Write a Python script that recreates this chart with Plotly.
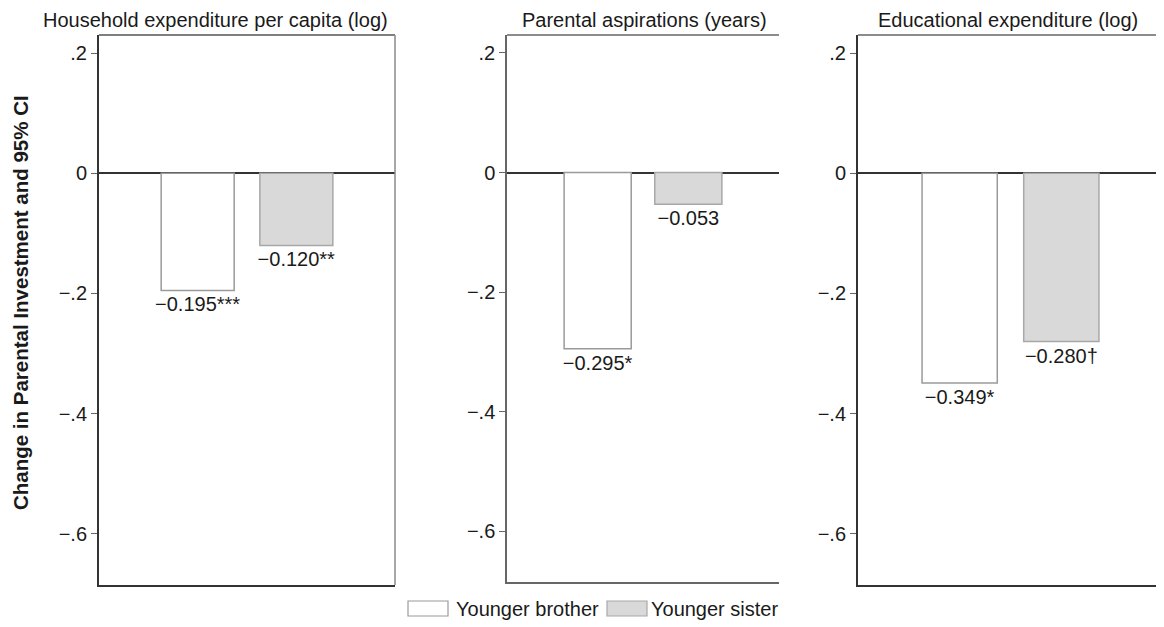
import plotly.graph_objects as go

# ---- data ----
panel_titles = ["Household expenditure per capita (log)",
                "Parental aspirations (years)",
                "Educational expenditure (log)"]
series_names = ["Younger brother", "Younger sister"]
brother_vals = [-0.195, -0.295, -0.349]
sister_vals = [-0.120, -0.053, -0.280]
brother_sig = ["***", "*", "*"]
sister_sig = ["**", "", "\u2020"]
tick_vals = [0.2, 0.0, -0.2, -0.4, -0.6]
tick_text = [".2", "0", "\u2212.2", "\u2212.4", "\u2212.6"]
y_title = "Change in Parental Investment and 95% CI"

# page has an 8px body margin: figure drawn at (8, 8)
OFF = 8
W, H = 1164 - OFF, 627 - OFF
FONT = "Liberation Sans, Arial, Helvetica, sans-serif"
TXT = "#1a1a1a"
FS = 20

def px(x):
    return (x - OFF) / W

def py(y):
    return 1 - (y - OFF) / H

def lab(v, s):
    return "\u2212" + f"{abs(v):.3f}" + s

# panel geometry (window pixels): left, right, top, bottom, title center x
panels = [
    dict(l=99, r=395, t=35, b=585, tc=215, left_c="#333333", bot_c="#333333", top_c="#555555", right_c="#8a8a8a", show_right=True, lw=2),
    dict(l=507, r=779, t=35, b=582, tc=644, left_c="#666666", bot_c="#666666", top_c="#666666", right_c="#666666", show_right=False, lw=1.5),
    dict(l=858, r=1163, t=35, b=585, tc=1008, left_c="#333333", bot_c="#333333", top_c="#666666", right_c="#9a9a9a", show_right=True, lw=2),
]

colors = ["#ffffff", "#d9d9d9"]
edge = ["#9a9a9a", "#a8a8a8"]

fig = go.Figure()
shapes = []
annotations = []

for i, p in enumerate(panels):
    sfx = "" if i == 0 else str(i + 1)
    xa, ya = "x" + sfx, "y" + sfx
    vals = [brother_vals[i], sister_vals[i]]
    sigs = [brother_sig[i], sister_sig[i]]
    for j in range(2):
        fig.add_trace(go.Bar(
            x=[series_names[j]], y=[vals[j]],
            width=0.74,
            marker=dict(color=colors[j], line=dict(color=edge[j], width=1.5)),
            text=[lab(vals[j], sigs[j])], textposition="outside",
            textfont=dict(family=FONT, size=FS, color=TXT),
            constraintext="none", cliponaxis=False,
            xaxis=xa, yaxis=ya, showlegend=False, hoverinfo="skip",
        ))
    fig.layout["xaxis" + sfx] = dict(
        domain=[px(p["l"]), px(p["r"])], anchor=ya,
        type="category", categoryorder="array", categoryarray=series_names,
        range=[-1.0, 2.0], showticklabels=False, ticks="",
        showgrid=False, zeroline=False,
        showline=True, linecolor=p["bot_c"], linewidth=p["lw"],
        fixedrange=True,
    )
    fig.layout["yaxis" + sfx] = dict(
        domain=[py(p["b"]), py(p["t"])], anchor=xa,
        range=[-0.685, 0.23],
        tickvals=tick_vals, ticktext=tick_text,
        ticks="outside", ticklen=6, tickcolor="#666666", tickwidth=1,
        tickfont=dict(family=FONT, size=FS, color=TXT),
        showgrid=False,
        zeroline=True, zerolinecolor="#333333", zerolinewidth=2,
        showline=True, linecolor=p["left_c"], linewidth=p["lw"],
        fixedrange=True,
    )
    # top border
    shapes.append(dict(type="line", xref=xa + " domain", yref=ya + " domain",
                       x0=0, x1=1, y0=1, y1=1,
                       line=dict(color=p["top_c"], width=1.5)))
    if p["show_right"]:
        shapes.append(dict(type="line", xref=xa + " domain", yref=ya + " domain",
                           x0=1, x1=1, y0=0, y1=1,
                           line=dict(color=p["right_c"], width=1.5)))
    annotations.append(dict(text=panel_titles[i], x=px(p["tc"]), y=py(20),
                            xref="paper", yref="paper", xanchor="center", yanchor="middle",
                            showarrow=False, font=dict(family=FONT, size=FS, color=TXT)))

# y-axis title
annotations.append(dict(text="<b>" + y_title + "</b>", x=px(20), y=py(303),
                        xref="paper", yref="paper", xanchor="center", yanchor="middle",
                        textangle=-90, showarrow=False,
                        font=dict(family=FONT, size=20.5, color=TXT)))

# legend (manual, wide swatches)
leg = [dict(x0=408, x1=448, tx=454), dict(x0=607, x1=647, tx=649)]
for j, L in enumerate(leg):
    shapes.append(dict(type="rect", xref="paper", yref="paper",
                       x0=px(L["x0"]), x1=px(L["x1"]), y0=py(616), y1=py(601),
                       fillcolor=colors[j], line=dict(color=edge[j], width=1.2)))
    annotations.append(dict(text=series_names[j], x=px(L["tx"]), y=py(608.5),
                            xref="paper", yref="paper", xanchor="left", yanchor="middle",
                            showarrow=False, font=dict(family=FONT, size=FS, color=TXT)))

fig.update_layout(
    width=W, height=H, margin=dict(l=0, r=0, t=0, b=0),
    paper_bgcolor="white", plot_bgcolor="white",
    barmode="overlay", shapes=shapes, annotations=annotations,
    showlegend=False, font=dict(family=FONT, color=TXT),
)

fig.write_html("out.html")
